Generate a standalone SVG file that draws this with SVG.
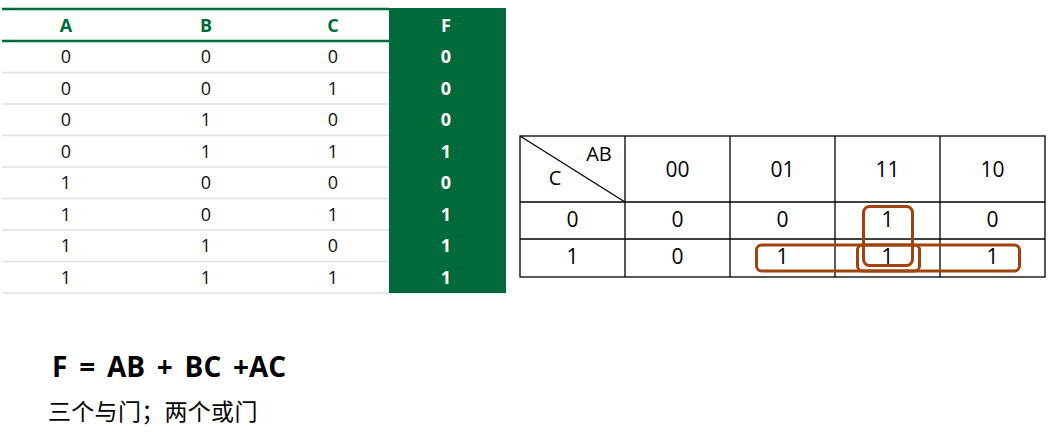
<svg xmlns="http://www.w3.org/2000/svg" width="1057" height="444" viewBox="0 0 1057 444">
<style>
.hd{font-family:"Open Sans","Noto Sans","Liberation Sans",sans-serif;font-weight:bold;font-size:18px;fill:#006b3a;text-anchor:middle}
.hf{font-family:"Open Sans","Noto Sans","Liberation Sans",sans-serif;font-weight:bold;font-size:18px;fill:#ffffff;text-anchor:middle}
.d{font-family:"Open Sans","Noto Sans","Liberation Sans",sans-serif;font-size:18px;fill:#111;text-anchor:middle}
.k{font-family:"Open Sans","Noto Sans","Liberation Sans",sans-serif;font-size:21px;fill:#000;text-anchor:middle}
.sep{stroke:#e0e0e0;stroke-width:1.5}
.grid{stroke:#000;stroke-width:1.3;fill:none}
.loop{fill:none;stroke:#a0430f;stroke-width:3}
</style>
<rect width="1057" height="444" fill="#ffffff"/>
<g id="truth-table">
  <rect x="389" y="8" width="117" height="285" fill="#006b3a"/>
  <line x1="2" y1="9" x2="389" y2="9" stroke="#006b3a" stroke-width="2.5"/>
  <line x1="2" y1="41" x2="389" y2="41" stroke="#006b3a" stroke-width="2.5"/>
  <g class="seps">
    <line class="sep" x1="2" y1="72.5" x2="389" y2="72.5"/>
    <line class="sep" x1="2" y1="104" x2="389" y2="104"/>
    <line class="sep" x1="2" y1="135.5" x2="389" y2="135.5"/>
    <line class="sep" x1="2" y1="167" x2="389" y2="167"/>
    <line class="sep" x1="2" y1="198.5" x2="389" y2="198.5"/>
    <line class="sep" x1="2" y1="230" x2="389" y2="230"/>
    <line class="sep" x1="2" y1="261.5" x2="389" y2="261.5"/>
    <line class="sep" x1="2" y1="293" x2="389" y2="293"/>
  </g>
  <text class="hd" x="66" y="31.5">A</text>
  <text class="hd" x="206" y="31.5">B</text>
  <text class="hd" x="333" y="31.5">C</text>
  <text class="hf" x="446" y="31.5">F</text>
  <g>
    <text class="d" x="66" y="63.3">0</text><text class="d" x="206" y="63.3">0</text><text class="d" x="333" y="63.3">0</text><text class="hf" x="446" y="63.3">0</text>
    <text class="d" x="66" y="94.8">0</text><text class="d" x="206" y="94.8">0</text><text class="d" x="333" y="94.8">1</text><text class="hf" x="446" y="94.8">0</text>
    <text class="d" x="66" y="126.3">0</text><text class="d" x="206" y="126.3">1</text><text class="d" x="333" y="126.3">0</text><text class="hf" x="446" y="126.3">0</text>
    <text class="d" x="66" y="157.8">0</text><text class="d" x="206" y="157.8">1</text><text class="d" x="333" y="157.8">1</text><text class="hf" x="446" y="157.8">1</text>
    <text class="d" x="66" y="189.3">1</text><text class="d" x="206" y="189.3">0</text><text class="d" x="333" y="189.3">0</text><text class="hf" x="446" y="189.3">0</text>
    <text class="d" x="66" y="220.8">1</text><text class="d" x="206" y="220.8">0</text><text class="d" x="333" y="220.8">1</text><text class="hf" x="446" y="220.8">1</text>
    <text class="d" x="66" y="252.3">1</text><text class="d" x="206" y="252.3">1</text><text class="d" x="333" y="252.3">0</text><text class="hf" x="446" y="252.3">1</text>
    <text class="d" x="66" y="283.8">1</text><text class="d" x="206" y="283.8">1</text><text class="d" x="333" y="283.8">1</text><text class="hf" x="446" y="283.8">1</text>
  </g>
</g>
<g id="kmap">
  <rect class="grid" x="520" y="136" width="525" height="141"/>
  <line class="grid" x1="520" y1="202" x2="1045" y2="202"/>
  <line class="grid" x1="520" y1="239" x2="1045" y2="239"/>
  <line class="grid" x1="625" y1="136" x2="625" y2="277"/>
  <line class="grid" x1="730" y1="136" x2="730" y2="277"/>
  <line class="grid" x1="835" y1="136" x2="835" y2="277"/>
  <line class="grid" x1="940" y1="136" x2="940" y2="277"/>
  <line class="grid" x1="520" y1="136" x2="625" y2="202"/>
  <text class="k" x="599" y="161" style="font-size:20px">AB</text>
  <text class="k" x="555" y="185" style="font-size:20px">C</text>
  <text class="k" x="677.5" y="176.7">00</text>
  <text class="k" x="782.5" y="176.7">01</text>
  <text class="k" x="887.5" y="176.7">11</text>
  <text class="k" x="992.5" y="176.7">10</text>
  <text class="k" x="572.5" y="227">0</text>
  <text class="k" x="677.5" y="227">0</text>
  <text class="k" x="782.5" y="227">0</text>
  <text class="k" x="887.5" y="227">1</text>
  <text class="k" x="992.5" y="227">0</text>
  <text class="k" x="572.5" y="264">1</text>
  <text class="k" x="677.5" y="264">0</text>
  <text class="k" x="782.5" y="264">1</text>
  <text class="k" x="887.5" y="264">1</text>
  <text class="k" x="992.5" y="264">1</text>
</g>
<g id="loops">
  <rect class="loop" x="863.5" y="206.5" width="49" height="59" rx="6"/>
  <rect class="loop" x="756.5" y="245" width="163" height="26" rx="5"/>
  <rect class="loop" x="857.5" y="245" width="162" height="26" rx="5"/>
</g>
<g id="formula">
  <text x="52" y="376.7" style="font-family:'Open Sans','Noto Sans','Liberation Sans',sans-serif;font-weight:bold;font-size:28px;word-spacing:4.5px;fill:#000">F = AB + BC +AC</text>
</g>
<g id="note">
  <text x="48" y="420" style="font-family:'Noto Sans CJK SC','Noto Sans',sans-serif;font-size:23px;letter-spacing:0.3px;fill:#000">三个与门；两个或门</text>
</g>
</svg>
